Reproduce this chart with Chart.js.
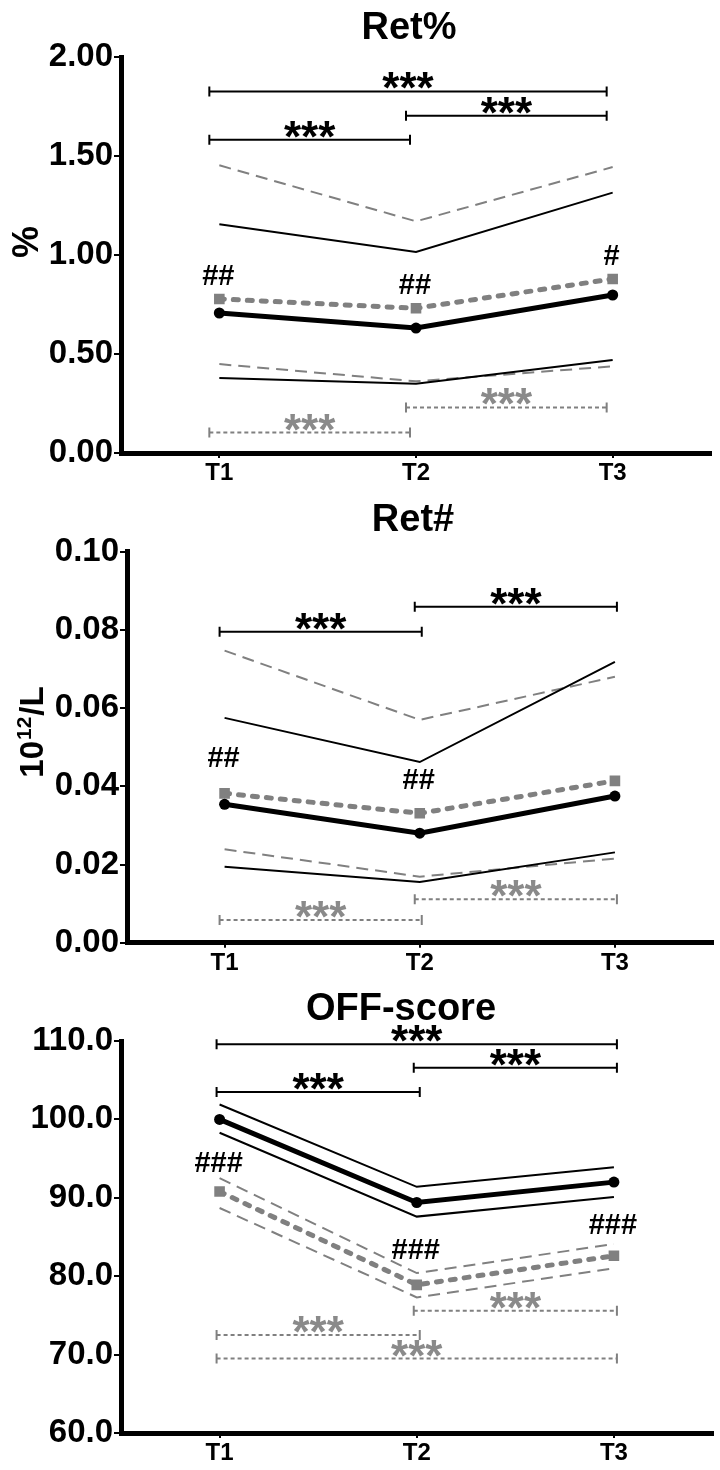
<!DOCTYPE html>
<html><head><meta charset="utf-8">
<script src="https://cdn.jsdelivr.net/npm/chart.js@4.4.0/dist/chart.umd.min.js"></script>
<style>
html,body{margin:0;padding:0;background:#fff;width:720px;height:1470px;overflow:hidden}
.p{position:absolute;left:0;width:720px;height:490px}
canvas{display:block}
</style></head><body>
<div class="p" style="top:0"><canvas id="c1" width="720" height="490"></canvas></div>
<div class="p" style="top:490px"><canvas id="c2" width="720" height="490"></canvas></div>
<div class="p" style="top:980px"><canvas id="c3" width="720" height="490"></canvas></div>
<script>
const categories = ['T1', 'T2', 'T3'];

// ---- Ret% ----
const retPctTitle = 'Ret%';
const retPctYLabel = '%';
const retPctTicks = [0, 0.5, 1.0, 1.5, 2.0];
const retPctMeanBlack = [0.707, 0.631, 0.798];
const retPctUpperBlack = [1.155, 1.015, 1.315];
const retPctLowerBlack = [0.379, 0.350, 0.470];
const retPctMeanGray = [0.778, 0.731, 0.879];
const retPctUpperGray = [1.453, 1.170, 1.444];
const retPctLowerGray = [0.449, 0.362, 0.438];
const retPctBracketsBlack = [[0, 2, 1.826], [1, 2, 1.703], [0, 1, 1.582]];
const retPctBracketsGray = [[1, 2, 0.230], [0, 1, 0.103]];
const retPctHashes = [[0, 0.899, '##'], [1, 0.852, '##'], [2, 1.0, '#']];

// ---- Ret# ----
const retAbsTitle = 'Ret#';
const retAbsTicks = [0, 0.02, 0.04, 0.06, 0.08, 0.10];
const retAbsMeanBlack = [0.0354, 0.0280, 0.0375];
const retAbsUpperBlack = [0.0575, 0.0462, 0.0718];
const retAbsLowerBlack = [0.0194, 0.0155, 0.0231];
const retAbsMeanGray = [0.0382, 0.0331, 0.0414];
const retAbsUpperGray = [0.0747, 0.0570, 0.0680];
const retAbsLowerGray = [0.0239, 0.0169, 0.0215];
const retAbsBracketsBlack = [[0, 1, 0.0795], [1, 2, 0.0859]];
const retAbsBracketsGray = [[1, 2, 0.0111], [0, 1, 0.0058]];
const retAbsHashes = [[0, 0.0474, '##'], [1, 0.0419, '##']];

// ---- OFF-score ----
const offTitle = 'OFF-score';
const offTicks = [60, 70, 80, 90, 100, 110];
const offMeanBlack = [100.0, 89.4, 92.0];
const offUpperBlack = [101.9, 91.4, 93.9];
const offLowerBlack = [98.3, 87.6, 90.1];
const offMeanGray = [90.8, 78.9, 82.6];
const offUpperGray = [92.5, 80.4, 84.1];
const offLowerGray = [88.7, 77.3, 81.0];
const offBracketsBlack = [[0, 2, 109.6], [1, 2, 106.6], [0, 1, 103.5]];
const offBracketsGray = [[1, 2, 75.6], [0, 1, 72.5], [0, 2, 69.5]];
const offHashes = [[0, 94.6, '###'], [1, 83.5, '###'], [2, 86.6, '###']];

const SIG = '***';
const FAM = "'Liberation Sans', Arial, Helvetica, sans-serif";
const GRAY = '#808080';
const GRAY_TXT = '#8a8a8a';

function centeredText(ctx, text, x, y, font, color) {
  ctx.font = font; ctx.fillStyle = color; ctx.textAlign = 'center'; ctx.textBaseline = 'alphabetic';
  const m = ctx.measureText(text);
  ctx.fillText(text, x, y + (m.actualBoundingBoxAscent - m.actualBoundingBoxDescent) / 2);
}

const annotPlugin = {
  id: 'annot',
  afterDraw(chart) {
    const o = chart.options.plugins.annot;
    const ctx = chart.ctx, xs = chart.scales.x, ys = chart.scales.y;
    ctx.save();
    centeredText(ctx, o.title, o.titleX, o.titleY, 'bold 38px ' + FAM, '#000');
    if (o.yLabel) {
      ctx.save();
      ctx.translate(o.yLabelX, o.yLabelY);
      ctx.rotate(-Math.PI / 2);
      if (o.yLabel === 'sup') {
        const big = 'bold 33px ' + FAM, small = 'bold 21px ' + FAM;
        ctx.font = big; const w1 = ctx.measureText('10').width; const w3 = ctx.measureText('/L').width;
        const cap = ctx.measureText('10').actualBoundingBoxAscent;
        ctx.font = small; const w2 = ctx.measureText('12').width + 2;
        const tot = w1 + w2 + w3; let x0 = -tot / 2; const base = cap / 2;
        ctx.fillStyle = '#000'; ctx.textAlign = 'left'; ctx.textBaseline = 'alphabetic';
        ctx.font = big; ctx.fillText('10', x0, base); x0 += w1 + 1;
        ctx.font = small; ctx.fillText('12', x0, base - 12); x0 += w2 - 1;
        ctx.font = big; ctx.fillText('/L', x0, base);
      } else {
        centeredText(ctx, o.yLabel, 0, 0, 'bold 36px ' + FAM, '#000');
      }
      ctx.restore();
    }
    const drawBr = (b, gray) => {
      const x1 = xs.getPixelForValue(b[0]) + o.brShiftL;
      const x2 = xs.getPixelForValue(b[1]) + o.brShiftR;
      const y = ys.getPixelForValue(b[2]);
      ctx.strokeStyle = gray ? GRAY : '#000';
      ctx.lineWidth = 2;
      ctx.setLineDash(gray ? [4, 3] : []);
      ctx.beginPath(); ctx.moveTo(x1, y); ctx.lineTo(x2, y); ctx.stroke();
      ctx.setLineDash([]);
      ctx.beginPath();
      ctx.moveTo(x1, y - 5); ctx.lineTo(x1, y + 5);
      ctx.moveTo(x2, y - 5); ctx.lineTo(x2, y + 5);
      ctx.stroke();
      centeredText(ctx, SIG, (x1 + x2) / 2, y - 10.5, 'bold 44px ' + FAM, gray ? GRAY_TXT : '#000');
    };
    o.bracketsGray.forEach(b => drawBr(b, true));
    o.bracketsBlack.forEach(b => drawBr(b, false));
    o.hashes.forEach(h => {
      centeredText(ctx, h[2], xs.getPixelForValue(h[0]) - 1, ys.getPixelForValue(h[1]), 'bold 29px ' + FAM, '#000');
    });
    ctx.restore();
  }
};

function makeChart(id, d, cfg) {
  const ds = [
    { data: d.meanB, borderColor: '#000', backgroundColor: '#000', borderWidth: 5, pointStyle: 'circle', pointRadius: 5.5, pointBackgroundColor: '#000', pointBorderWidth: 0 },
    { data: d.meanG, borderColor: GRAY, backgroundColor: GRAY, borderWidth: 5, borderDash: [5, 9], borderCapStyle: 'round', pointStyle: 'rect', pointRadius: 7.5, pointBackgroundColor: GRAY, pointBorderWidth: 0 },
    { data: d.upB, borderColor: '#000', borderWidth: 2, pointRadius: 0 },
    { data: d.loB, borderColor: '#000', borderWidth: 2, pointRadius: 0 },
    { data: d.upG, borderColor: GRAY, borderWidth: 2, borderDash: [12, 7], pointRadius: 0 },
    { data: d.loG, borderColor: GRAY, borderWidth: 2, borderDash: [12, 7], pointRadius: 0 }
  ].map(x => Object.assign({ fill: false, tension: 0, pointHoverRadius: 0 }, x));
  return new Chart(document.getElementById(id), {
    type: 'line',
    data: { labels: categories, datasets: ds },
    options: {
      responsive: false, animation: false, devicePixelRatio: 1,
      events: [],
      layout: { padding: { top: cfg.padTop, right: cfg.padRight, left: 0, bottom: 0 } },
      plugins: {
        legend: { display: false }, tooltip: { enabled: false }, title: { display: false },
        annot: {
          title: d.title, titleX: cfg.titleX, titleY: cfg.titleY,
          yLabel: d.yLabel, yLabelX: cfg.yLabelX, yLabelY: cfg.yLabelY,
          bracketsBlack: d.brB, bracketsGray: d.brG, hashes: d.hashes,
          brShiftL: cfg.brShiftL, brShiftR: cfg.brShiftR
        }
      },
      scales: {
        x: {
          type: 'category', offset: true,
          grid: { drawOnChartArea: false, drawTicks: true, tickLength: 5, color: '#000', lineWidth: 2, offset: false },
          border: { display: true, color: '#000', width: 5 },
          ticks: { font: { family: FAM, size: 24, weight: 'bold' }, color: '#000', padding: 1, maxRotation: 0 },
          afterFit(s) { s.height = cfg.xAxisH; }
        },
        y: {
          min: d.ticks[0], max: d.ticks[d.ticks.length - 1],
          grid: { drawOnChartArea: false, drawTicks: true, tickLength: 7, color: '#000', lineWidth: 2 },
          border: { display: true, color: '#000', width: 5 },
          ticks: { font: { family: FAM, size: 33, weight: 'bold' }, color: '#000', padding: 1, callback: v => Number(v).toFixed(d.dec) },
          afterBuildTicks(s) { s.ticks = d.ticks.map(v => ({ value: v })); },
          afterFit(s) { s.width = cfg.yAxisW; }
        }
      }
    },
    plugins: [annotPlugin]
  });
}

makeChart('c1', {
  title: retPctTitle, yLabel: retPctYLabel, ticks: retPctTicks, dec: 2,
  meanB: retPctMeanBlack, upB: retPctUpperBlack, loB: retPctLowerBlack,
  meanG: retPctMeanGray, upG: retPctUpperGray, loG: retPctLowerGray,
  brB: retPctBracketsBlack, brG: retPctBracketsGray, hashes: retPctHashes
}, { padTop: 57, padRight: 9, xAxisH: 37, yAxisW: 121, titleX: 409, titleY: 25, yLabelX: 25, yLabelY: 242, brShiftL: -10, brShiftR: -6 });

makeChart('c2', {
  title: retAbsTitle, yLabel: 'sup', ticks: retAbsTicks, dec: 2,
  meanB: retAbsMeanBlack, upB: retAbsUpperBlack, loB: retAbsLowerBlack,
  meanG: retAbsMeanGray, upG: retAbsUpperGray, loG: retAbsLowerGray,
  brB: retAbsBracketsBlack, brG: retAbsBracketsGray, hashes: retAbsHashes
}, { padTop: 61.7, padRight: 7, xAxisH: 37.3, yAxisW: 127, titleX: 413, titleY: 27, yLabelX: 31, yLabelY: 242, brShiftL: -5, brShiftR: 2 });

makeChart('c3', {
  title: offTitle, yLabel: null, ticks: offTicks, dec: 1,
  meanB: offMeanBlack, upB: offUpperBlack, loB: offLowerBlack,
  meanG: offMeanGray, upG: offUpperGray, loG: offLowerGray,
  brB: offBracketsBlack, brG: offBracketsGray, hashes: offHashes
}, { padTop: 61, padRight: 7, xAxisH: 37, yAxisW: 121, titleX: 401, titleY: 26, yLabelX: 0, yLabelY: 0, brShiftL: -3, brShiftR: 3 });
</script>
</body></html>
